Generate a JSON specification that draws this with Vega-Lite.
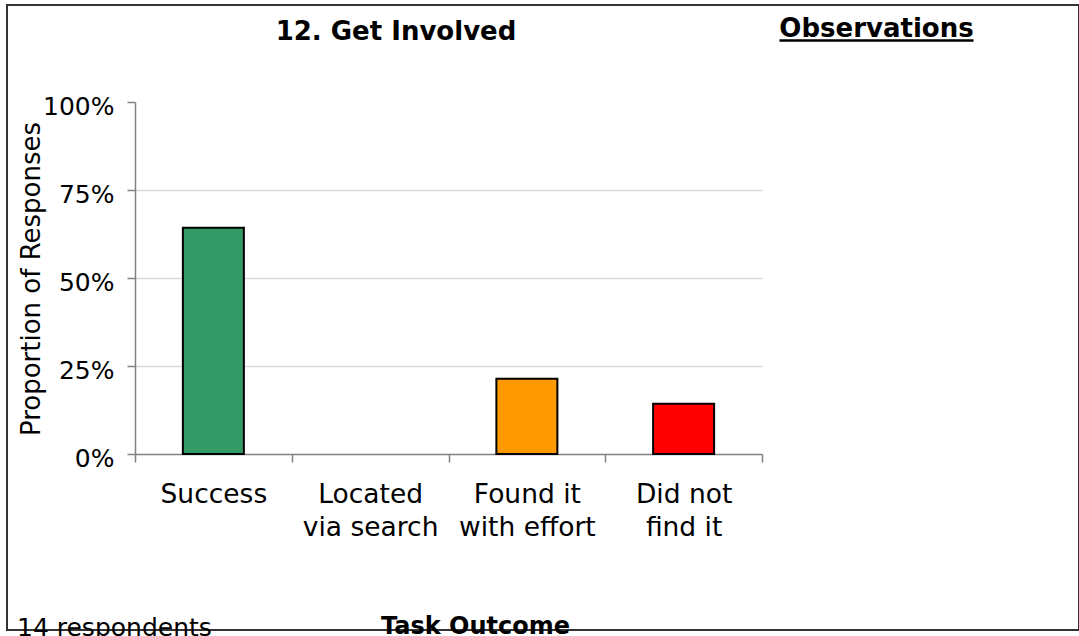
{
  "$schema": "https://vega.github.io/schema/vega-lite/v6.json",
  "width": 1072,
  "height": 625,
  "autosize": {"type": "none"},
  "padding": {"left": 7, "top": 5, "right": 0, "bottom": 6},
  "background": "white",
  "config": {
    "font": "DejaVu Sans",
    "view": {"stroke": "#333333", "strokeWidth": 2}
  },
  "title": {
    "text": "12. Get Involved",
    "fontSize": 26,
    "fontWeight": "bold",
    "color": "black",
    "anchor": "middle",
    "frame": "group",
    "baseline": "alphabetic",
    "offset": 0,
    "dx": -147,
    "dy": 61
  },
  "data": {
    "values": [
      {"outcome": "Success", "share": 0.643},
      {"outcome": "Located via search", "share": 0},
      {"outcome": "Found it with effort", "share": 0.214},
      {"outcome": "Did not find it", "share": 0.143}
    ]
  },
  "layer": [
    {
      "mark": {"type": "bar", "width": 61, "stroke": "black"},
      "encoding": {
        "x": {
          "field": "outcome",
          "type": "nominal",
          "sort": null,
          "scale": {"range": [128, 755], "paddingInner": 0, "paddingOuter": 0},
          "axis": {
            "orient": "bottom",
            "offset": -176,
            "title": "Task Outcome",
            "titleFontSize": 24,
            "titleFontWeight": "bold",
            "titleColor": "black",
            "titleX": 468,
            "titleY": 179.5,
            "titleAlign": "center",
            "titleBaseline": "alphabetic",
            "labelAngle": 0,
            "labelFontSize": 26.5,
            "labelColor": "black",
            "labelBaseline": "alphabetic",
            "labelPadding": 40,
            "labelLineHeight": 33,
            "labelLimit": 400,
            "labelOverlap": false,
            "labelExpr": "datum.value == 'Located via search' ? ['Located', 'via search'] : datum.value == 'Found it with effort' ? ['Found it', 'with effort'] : datum.value == 'Did not find it' ? ['Did not', 'find it'] : datum.value",
            "tickBand": "extent",
            "tickSize": 8,
            "tickColor": "#808080",
            "tickWidth": 1.5,
            "domainColor": "#808080",
            "domainWidth": 1.5,
            "grid": false
          }
        },
        "y": {
          "field": "share",
          "type": "quantitative",
          "scale": {"domain": [0, 1], "range": [449, 97]},
          "axis": {
            "orient": "left",
            "offset": -128,
            "values": [0, 0.25, 0.5, 0.75, 1],
            "format": ".0%",
            "labelFontSize": 25,
            "labelColor": "black",
            "labelPadding": 13,
            "labelBaseline": "alphabetic",
            "labelOffset": 12,
            "labelOverlap": false,
            "tickSize": 8,
            "tickColor": "#808080",
            "tickWidth": 1.5,
            "domainColor": "#808080",
            "domainWidth": 1.5,
            "grid": true,
            "gridColor": "#d9d9d9",
            "gridWidth": 1.5,
            "gridOpacity": {"condition": {"test": "datum.value >= 1 || datum.value <= 0", "value": 0}, "value": 1},
            "title": "Proportion of Responses",
            "titleFontSize": 26,
            "titleFontWeight": "normal",
            "titleColor": "black",
            "titleAngle": -90,
            "titleX": -95.5,
            "titleY": 273.5,
            "titleAlign": "center",
            "titleBaseline": "alphabetic"
          }
        },
        "color": {
          "field": "outcome",
          "type": "nominal",
          "sort": null,
          "scale": {
            "domain": ["Success", "Located via search", "Found it with effort", "Did not find it"],
            "range": ["#339966", "#ffffff", "#ff9900", "#ff0000"]
          },
          "legend": null
        },
        "strokeWidth": {"condition": {"test": "datum.share > 0", "value": 2}, "value": 0}
      }
    },
    {
      "mark": {"type": "point", "opacity": 0},
      "encoding": {
        "x": {
          "field": "outcome",
          "type": "nominal",
          "sort": null,
          "scale": {"range": [772, 966]},
          "axis": {
            "orient": "top",
            "offset": -35,
            "labels": false,
            "ticks": false,
            "grid": false,
            "domainColor": "black",
            "domainWidth": 2.5,
            "title": "Observations",
            "titleFontSize": 26,
            "titleFontWeight": "bold",
            "titleColor": "black",
            "titleLimit": 1000,
            "titleX": 869,
            "titleY": -3.5,
            "titleAlign": "center",
            "titleBaseline": "alphabetic"
          }
        },
        "y": {
          "field": "share",
          "type": "quantitative",
          "axis": {
            "orient": "right",
            "domain": false,
            "ticks": false,
            "labels": false,
            "grid": false,
            "title": "14 respondents",
            "titleFontSize": 25,
            "titleFontWeight": "normal",
            "titleColor": "black",
            "titleLimit": 1000,
            "titleAngle": 0,
            "titleX": -1062.5,
            "titleY": 630,
            "titleAlign": "left",
            "titleBaseline": "alphabetic"
          }
        }
      }
    }
  ],
  "resolve": {
    "scale": {"x": "independent"},
    "axis": {"x": "independent", "y": "independent"}
  }
}
